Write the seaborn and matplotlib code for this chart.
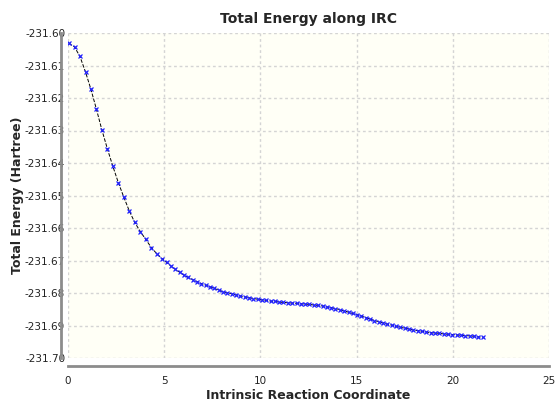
import matplotlib
matplotlib.use('Agg')
import matplotlib.pyplot as plt
from matplotlib.ticker import MultipleLocator, FormatStrFormatter
import seaborn as sns

# IRC path
irc_coord = [0.05, 0.34, 0.62, 0.91, 1.19, 1.48, 1.76, 2.05, 2.33, 2.62,
             2.90, 3.19, 3.47, 3.76, 4.04, 4.33, 4.61, 4.90,
             5.13, 5.35, 5.58, 5.80, 6.03, 6.25, 6.48, 6.70, 6.93, 7.15,
             7.38, 7.60, 7.83, 8.05, 8.28, 8.50, 8.73, 8.95, 9.18, 9.40,
             9.63, 9.85, 10.08, 10.30, 10.53, 10.75, 10.98, 11.20, 11.43, 11.65,
             11.88, 12.10, 12.33, 12.55, 12.78, 13.00, 13.23, 13.45, 13.68, 13.90,
             14.13, 14.35, 14.58, 14.80, 15.03, 15.25, 15.48, 15.70, 15.93, 16.15,
             16.38, 16.60, 16.83, 17.05, 17.28, 17.50, 17.73, 17.95, 18.18, 18.40,
             18.63, 18.85, 19.08, 19.30, 19.53, 19.75, 19.98, 20.20, 20.43, 20.65,
             20.88, 21.10, 21.33, 21.55]
total_energy = [-231.6032, -231.6043, -231.6072, -231.6120, -231.6173, -231.6235,
                -231.6298, -231.6357, -231.6410, -231.6461, -231.6505, -231.6548,
                -231.6583, -231.6611, -231.6635, -231.6660, -231.6679, -231.6695,
                -231.6706, -231.6717, -231.6727, -231.6736, -231.6745, -231.6752,
                -231.6759, -231.6765, -231.6771, -231.6776, -231.6781, -231.6786,
                -231.6791, -231.6796, -231.6799, -231.6802, -231.6806, -231.6809,
                -231.6812, -231.6814, -231.6817, -231.6819, -231.6821, -231.6823,
                -231.6825, -231.6826, -231.6828, -231.6829, -231.6830, -231.6831,
                -231.6832, -231.6833, -231.6834, -231.6835, -231.6837, -231.6838,
                -231.6840, -231.6843, -231.6845, -231.6848, -231.6851, -231.6855,
                -231.6859, -231.6863, -231.6867, -231.6871, -231.6876, -231.6880,
                -231.6885, -231.6888, -231.6892, -231.6896, -231.6899, -231.6903,
                -231.6906, -231.6908, -231.6911, -231.6914, -231.6916, -231.6918,
                -231.6920, -231.6922, -231.6923, -231.6924, -231.6926, -231.6927,
                -231.6928, -231.6929, -231.6930, -231.6931, -231.6932, -231.6933,
                -231.6935, -231.6936]

sns.set_style('white')
plt.rcParams['font.family'] = ['DejaVu Sans']
plt.rcParams['axes.unicode_minus'] = False

fig = plt.figure(figsize=(5.56, 4.01), dpi=100)
ax = fig.add_axes([68 / 556, 1 - 358 / 401, 481 / 556, 325 / 401])
ax.set_facecolor('#fffff6')

sns.lineplot(x=irc_coord, y=total_energy, ax=ax, color='black', linestyle='--',
             linewidth=0.7, marker='x', markersize=2.5, markeredgewidth=0.9,
             markeredgecolor='#2020ff', markerfacecolor='#2020ff', zorder=3)

ax.set_xlim(0, 25)
ax.set_ylim(-231.70, -231.60)
ax.xaxis.set_major_locator(MultipleLocator(5))
ax.xaxis.set_minor_locator(MultipleLocator(0.5))
ax.yaxis.set_major_locator(MultipleLocator(0.01))
ax.yaxis.set_minor_locator(MultipleLocator(0.005))
ax.yaxis.set_major_formatter(FormatStrFormatter('%.2f'))

ax.grid(True, which='major', color='#d4d4d4', linestyle=(0, (2, 2)), linewidth=1)
ax.set_axisbelow(True)

for side in ['top', 'right']:
    ax.spines[side].set_visible(False)
ax.spines['left'].set_position(('outward', 5))
ax.spines['bottom'].set_position(('outward', 6))
for side in ['left', 'bottom']:
    ax.spines[side].set_color('#8c8c8c')
    ax.spines[side].set_linewidth(2)

ax.tick_params(axis='both', which='both', direction='out', color='#8c8c8c',
               labelsize=7.5, labelcolor='#222222')
ax.tick_params(axis='x', which='major', length=4, width=1, pad=3)
ax.tick_params(axis='x', which='minor', length=2, width=1)
ax.tick_params(axis='y', which='major', length=0, pad=-3)
ax.tick_params(axis='y', which='minor', length=4, width=1)

ax.set_title('Total Energy along IRC', fontsize=10, fontweight='bold', pad=7)
ax.set_xlabel('Intrinsic Reaction Coordinate', fontsize=9, fontweight='bold', labelpad=2)
ax.set_ylabel('Total Energy (Hartree)', fontsize=9, fontweight='bold')
ax.yaxis.set_label_coords(-0.0915, 0.5)

fig.savefig('out.png', dpi=100)
